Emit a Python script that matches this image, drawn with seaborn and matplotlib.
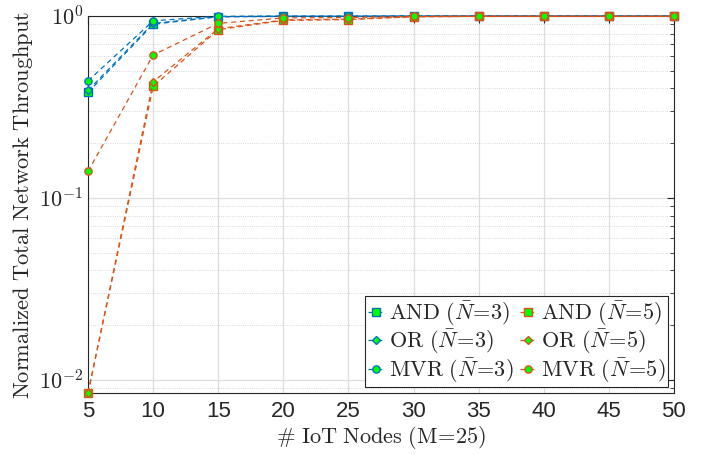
import numpy as np
import pandas as pd
import seaborn as sns
import matplotlib
matplotlib.use("Agg")
import matplotlib.pyplot as plt
from matplotlib.ticker import FixedLocator, FixedFormatter, LogLocator, NullFormatter

# ---- data ----
nodes = [5, 10, 15, 20, 25, 30, 35, 40, 45, 50]
and_n3 = [0.38, 0.90, 0.99, 0.995, 0.995, 1.0, 1.0, 1.0, 1.0, 1.0]
or_n3 = [0.39, 0.91, 0.99, 0.995, 0.995, 1.0, 1.0, 1.0, 1.0, 1.0]
mvr_n3 = [0.44, 0.94, 0.995, 1.0, 1.0, 1.0, 1.0, 1.0, 1.0, 1.0]
and_n5 = [0.0085, 0.41, 0.84, 0.945, 0.955, 0.99, 0.995, 0.995, 0.995, 0.995]
or_n5 = [0.0085, 0.435, 0.85, 0.95, 0.96, 0.99, 0.995, 0.995, 0.995, 0.995]
mvr_n5 = [0.14, 0.61, 0.91, 0.975, 0.98, 0.995, 0.995, 0.995, 0.995, 0.995]
x_ticks = [5, 10, 15, 20, 25, 30, 35, 40, 45, 50]
y_ticks = [0.01, 0.1, 1.0]
y_tick_labels = [r'$\mathsf{10^{-2}}$', r'$\mathsf{10^{-1}}$', r'$\mathsf{10^{0}}$']

series = [
    (and_n3, r'$\mathrm{AND}\ (\bar{N}\!=\!3)$', '#0072BD', 's'),
    (or_n3, r'$\mathrm{OR}\ (\bar{N}\!=\!3)$', '#0072BD', 'D'),
    (mvr_n3, r'$\mathrm{MVR}\ (\bar{N}\!=\!3)$', '#0072BD', 'o'),
    (and_n5, r'$\mathrm{AND}\ (\bar{N}\!=\!5)$', '#D95319', 's'),
    (or_n5, r'$\mathrm{OR}\ (\bar{N}\!=\!5)$', '#D95319', 'D'),
    (mvr_n5, r'$\mathrm{MVR}\ (\bar{N}\!=\!5)$', '#D95319', 'o'),
]

sns.set_theme(style="white")
plt.rcParams['mathtext.fontset'] = 'cm'
plt.rcParams['font.family'] = ['Liberation Sans', 'DejaVu Sans']

fig = plt.figure(figsize=(7.02, 4.55), dpi=100)
ax = fig.add_axes([0.1254, 0.1363, 0.8346, 0.8287])

for vals, lab, col, mk in series:
    df = pd.DataFrame({'x': nodes, 'y': vals})
    ms = 4.5 if mk == 'D' else 5.2
    sns.lineplot(data=df, x='x', y='y', ax=ax, color=col, linestyle=(0, (4, 3)),
                 linewidth=0.9, marker=mk, markersize=ms,
                 markerfacecolor='#00FF00', markeredgecolor=col,
                 markeredgewidth=1.0, label=lab, clip_on=False, zorder=3)

ax.set_yscale('log')
ax.set_xlim(5, 50)
ax.set_ylim(0.0085, 1.0)
ax.xaxis.set_major_locator(FixedLocator(x_ticks))
ax.set_xticklabels([str(t) for t in x_ticks])
ax.yaxis.set_major_locator(FixedLocator(y_ticks))
ax.yaxis.set_major_formatter(FixedFormatter(y_tick_labels))
ax.yaxis.set_minor_locator(LogLocator(base=10, subs=np.arange(2, 10), numticks=20))
ax.yaxis.set_minor_formatter(NullFormatter())

ax.tick_params(axis='both', which='both', direction='in', top=True, right=True,
               colors='#262626', labelcolor='#262626')
ax.tick_params(axis='both', which='major', length=5, width=0.8, labelsize=16)
ax.tick_params(axis='y', which='minor', length=3, width=0.6)
ax.tick_params(axis='x', which='major', pad=6)

ax.grid(True, which='major', axis='both', color='#DDDDDD', linewidth=0.9, linestyle='-')
ax.grid(True, which='minor', axis='y', color='#CCCCCC', linewidth=0.6, linestyle=':')
ax.set_axisbelow(True)

for s in ax.spines.values():
    s.set_color('#262626')
    s.set_linewidth(0.8)
    s.set_visible(True)

ax.set_xlabel(r'$\#\ \mathrm{IoT\ Nodes\ (M}\!=\!\mathrm{25)}$', fontsize=16,
              color='#262626', labelpad=1)
ax.set_ylabel(r'$\mathrm{Normalized\ Total\ Network\ Throughput}$', fontsize=16.2,
              color='#262626', labelpad=3)

leg = ax.legend(ncol=2, loc='lower right', fontsize=16, frameon=True, fancybox=False,
                edgecolor='#262626', framealpha=1, handlelength=0.7, handletextpad=0.25,
                columnspacing=0.3, borderpad=0.12, labelspacing=0.0, borderaxespad=0.25)
leg.get_frame().set_linewidth(0.8)

fig.savefig('out.png', dpi=100)
